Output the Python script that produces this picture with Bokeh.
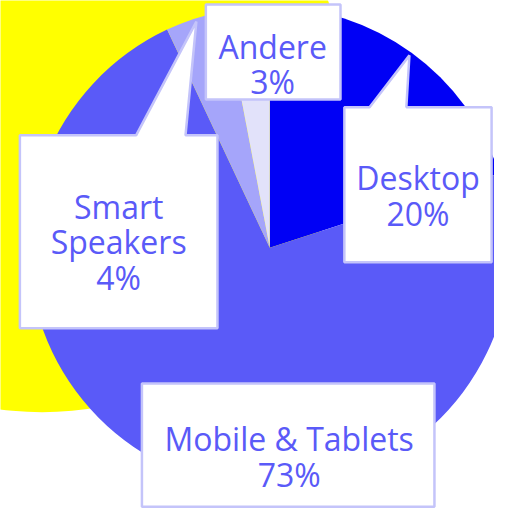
import math
from bokeh.plotting import figure
from bokeh.models import Range1d, ColumnDataSource
from bokeh.core.properties import value
from bokeh.embed import file_html
from bokeh.resources import INLINE

# ---- data ----
categories = ["Desktop", "Mobile & Tablets", "Smart Speakers", "Andere"]
shares = [20, 73, 4, 3]
slice_colors = ["#0000F5", "#5A5AF8", "#A5A5FA", "#E2E2FA"]
label_lines = [["Desktop"], ["Mobile & Tablets"], ["Smart", "Speakers"], ["Andere"]]

# ---- layout (reference pixel space, y down) ----
W, H = 510, 531
CX, CY, R = 278, 255, 249
YEL_X, YEL_Y, YEL_R = 43, 110, 315
LINE = 37
FONT = "Open Sans"
FONT_SIZE = "32px"
TEXT_COLOR = "#5A5AF8"
callouts = {
    "Desktop": dict(box=(355, 110, 507, 270), base=(381, 419), tx=431, ty=183),
    "Mobile & Tablets": dict(box=(146, 395, 448, 522), base=None, tx=298, ty=452),
    "Smart Speakers": dict(box=(20, 139, 224, 338), base=(140, 191), tx=122, ty=212),
    "Andere": dict(box=(212, 4, 351, 102), base=None, tx=281, ty=47),
}


def fy(y):
    return H - y


p = figure(width=494, height=515, x_range=Range1d(0, W), y_range=Range1d(0, H),
           x_axis_type=None, y_axis_type=None, output_backend="svg",
           toolbar_location=None, min_border=0)
p.grid.visible = False
p.outline_line_color = None
p.background_fill_color = "white"

# yellow backdrop circle
p.circle(x=[YEL_X], y=[fy(YEL_Y)], radius=YEL_R, fill_color="#FFFF00", line_color=None)

# pie
total = float(sum(shares))
starts, ends, mids = [], [], []
c = 0.0
for s in shares:
    c0, c1 = c / total, (c + s) / total
    starts.append(math.pi / 2 - 2 * math.pi * c1)
    ends.append(math.pi / 2 - 2 * math.pi * c0)
    mids.append(math.pi / 2 - 2 * math.pi * (c0 + c1) / 2)
    c += s
pie_src = ColumnDataSource(dict(cat=categories, share=shares, start=starts, end=ends, color=slice_colors))
p.wedge(x=CX, y=fy(CY), radius=R, start_angle="start", end_angle="end",
        direction="anticlock", fill_color="color", line_color=None, source=pie_src)

# callouts
xs, ys = [], []
tx, ty, tt = [], [], []
for cat, share, mid, lines in zip(categories, shares, mids, label_lines):
    co = callouts[cat]
    l, t, r, b = co["box"]
    px, py = [l], [fy(t)]
    if co["base"] is not None:
        tipx = CX + 0.985 * R * math.cos(mid)
        tipy = fy(CY) + 0.985 * R * math.sin(mid)
        px += [co["base"][0], tipx, co["base"][1]]
        py += [fy(t), tipy, fy(t)]
    px += [r, r, l]
    py += [fy(t), fy(b), fy(b)]
    xs.append(px)
    ys.append(py)
    all_lines = lines + [f"{share}%"]
    for i, ln in enumerate(all_lines):
        tx.append(co["tx"])
        ty.append(fy(co["ty"] + i * LINE))
        tt.append(ln)

p.patches(xs=xs, ys=ys, fill_color="white", line_color="#C4C4FA", line_width=2.5)
p.text(x=tx, y=ty, text=tt, text_font=value(FONT), text_font_size=FONT_SIZE,
       text_align="center", text_baseline="alphabetic", text_color=TEXT_COLOR)

open("out.html", "w").write(file_html(p, INLINE))
